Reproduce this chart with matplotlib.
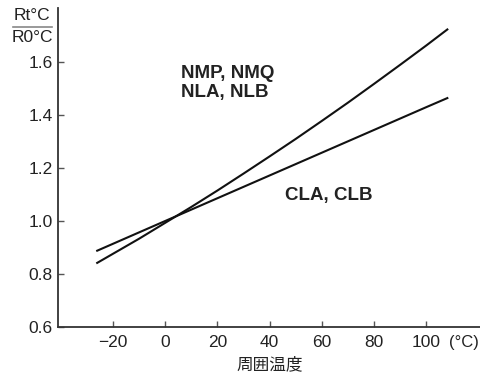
#! /usr/bin/env python3

"""
Resistance ratio Rt/R0 vs ambient temperature for two thermistor families
"""

import matplotlib.pyplot as plt
from matplotlib.lines import Line2D

# data
temps = [-26, -10, 0, 10, 20, 30, 40, 50, 60, 70, 80, 90, 100, 108]
nmp_ratio = [0.842, 0.933, 0.993, 1.053, 1.115, 1.179, 1.244,
             1.310, 1.378, 1.447, 1.518, 1.590, 1.663, 1.723]
cla_ratio = [0.888, 0.957, 1.000, 1.043, 1.086, 1.129, 1.172,
             1.215, 1.258, 1.301, 1.344, 1.387, 1.430, 1.464]

xticks = [-20, 0, 20, 40, 60, 80, 100]
yticks = [0.6, 0.8, 1.0, 1.2, 1.4, 1.6]
nmp_label = "NMP, NMQ\nNLA, NLB"
cla_label = "CLA, CLB"
xlabel = "周囲温度"

plt.rcParams['font.family'] = ['Liberation Sans', 'DejaVu Sans']
txt = '#222222'


def make_chart():
    fig = plt.figure(figsize=(4.81, 3.78), dpi=100)
    ax = fig.add_axes([58 / 481, 51 / 378, 422 / 481, 319 / 378])

    ax.plot(temps, nmp_ratio, color='#111111', lw=1.5)
    ax.plot(temps, cla_ratio, color='#111111', lw=1.5)

    ax.set_xlim(-41, 120.5)
    ax.set_ylim(0.6, 1.804)
    ax.set_xticks(xticks)
    ax.set_xticklabels([str(t).replace('-', '\u2212') for t in xticks])
    ax.set_yticks(yticks)
    ax.set_yticklabels([f"{v:.1f}" for v in yticks])

    for s in ['top', 'right']:
        ax.spines[s].set_visible(False)
    for s in ['left', 'bottom']:
        ax.spines[s].set_color('#333333')
        ax.spines[s].set_linewidth(1.3)
    ax.tick_params(direction='in', length=4, width=1, color='#555555',
                   labelsize=12.5, labelcolor=txt)
    ax.tick_params(axis='x', pad=6)
    ax.tick_params(axis='y', pad=4)

    # series labels
    ax.text(6, 1.59, nmp_label, fontsize=13.5, fontweight='bold',
            color=txt, va='top', ha='left', linespacing=1.15)
    ax.text(46, 1.079, cla_label, fontsize=13.5, fontweight='bold',
            color=txt, va='baseline', ha='left')

    # unit and axis title
    fig.text(449 / 481, 1 - 342 / 378, "(°C)", fontsize=12, color=txt,
             ha='left', va='center')
    fig.text(270 / 481, 1 - 365 / 378, xlabel, fontsize=12, color=txt,
             ha='center', va='center',
             family=['Noto Sans CJK JP', 'DejaVu Sans'])

    # Rt/R0 fraction as y label
    fig.text(31.5 / 481, 1 - 16 / 378, "Rt°C", fontsize=12.5, color=txt,
             ha='center', va='center')
    fig.text(32 / 481, 1 - 38 / 378, "R0°C", fontsize=12.5, color=txt,
             ha='center', va='center')
    fig.add_artist(Line2D([12.7 / 481, 51.7 / 481], [1 - 27 / 378, 1 - 27 / 378],
                          color='#888888', lw=1.2, transform=fig.transFigure))

    fig.savefig('out.png', dpi=100)


if __name__ == "__main__":
    make_chart()
